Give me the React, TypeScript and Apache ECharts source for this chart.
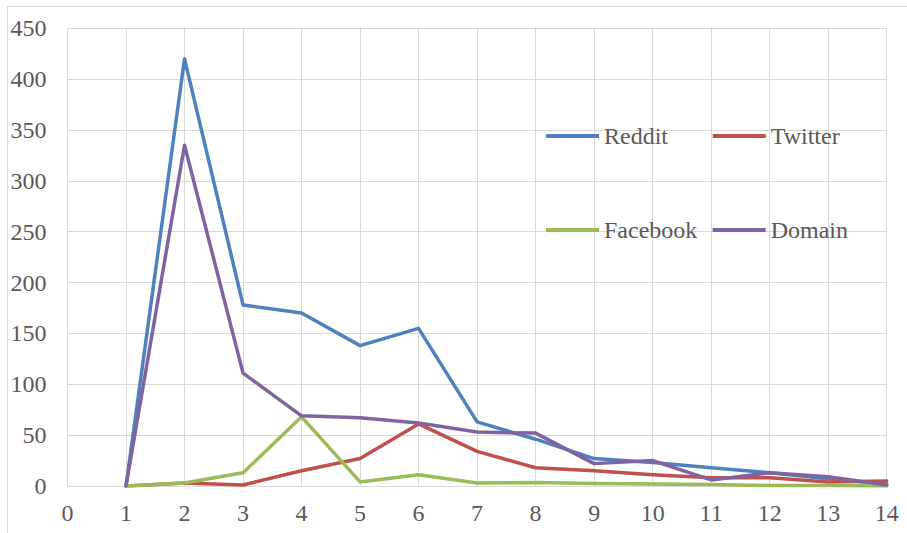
import React, { useEffect, useRef } from "react";
import * as echarts from "echarts";

const xValues = [1, 2, 3, 4, 5, 6, 7, 8, 9, 10, 11, 12, 13, 14];
const reddit = [0, 420, 178, 170, 138, 155, 63, 46, 27, 23, 18, 13, 7, 2];
const twitter = [0, 3, 1, 15, 27, 61, 34, 18, 15, 11, 8, 8, 4, 5];
const facebook = [0, 3, 13, 68, 4, 11, 3, 3.5, 2.5, 2, 1.5, 0.5, 0.5, 0];
const domain = [0, 335, 111, 69, 67, 62, 53, 52, 22, 25, 6, 13, 9, 1];

const seriesNames = ["Reddit", "Twitter", "Facebook", "Domain"];
const seriesColors = ["#4F81BD", "#C0504D", "#9BBB59", "#8064A2"];
const seriesData = [reddit, twitter, facebook, domain];

const FONT = "Liberation Serif, Times New Roman, serif";
const FONT_SIZE = 24;
const TEXT_COLOR = "#595959";
const GRID_COLOR = "#D9D9D9";

export default function App() {
  const ref = useRef<HTMLDivElement>(null);

  useEffect(() => {
    document.body.style.margin = "0";
    if (!ref.current) return;
    const chart = echarts.init(ref.current, null, { renderer: "svg" });

    const legendPos = [
      { left: 546, top: 124 },
      { left: 712.7, top: 124 },
      { left: 546, top: 218 },
      { left: 712.7, top: 218 },
    ];

    chart.setOption({
      animation: false,
      backgroundColor: "#ffffff",
      textStyle: { fontFamily: FONT },
      grid: { left: 67.5, right: 20.3, top: 28.3, bottom: 47, containLabel: false },
      graphic: [
        {
          type: "rect",
          shape: { x: 7.5, y: 6.5, width: 920, height: 560 },
          style: { fill: "none", stroke: GRID_COLOR, lineWidth: 1 },
          silent: true,
        },
      ],
      legend: seriesNames.map((name, i) => ({
        data: [name],
        left: legendPos[i].left,
        top: legendPos[i].top,
        icon: "rect",
        itemWidth: 53,
        itemHeight: 4,
        padding: 0,
        selectedMode: false,
        textStyle: { fontFamily: FONT, fontSize: FONT_SIZE, color: TEXT_COLOR },
      })),
      xAxis: {
        type: "value",
        min: 0,
        max: 14,
        interval: 1,
        axisLine: { show: true, lineStyle: { color: GRID_COLOR, width: 1 } },
        axisTick: { show: false },
        splitLine: { show: true, lineStyle: { color: GRID_COLOR, width: 1 } },
        axisLabel: { fontFamily: FONT, fontSize: FONT_SIZE, color: TEXT_COLOR, margin: 15 },
      },
      yAxis: {
        type: "value",
        min: 0,
        max: 450,
        interval: 50,
        axisLine: { show: true, lineStyle: { color: GRID_COLOR, width: 1 } },
        axisTick: { show: false },
        splitLine: { show: true, lineStyle: { color: GRID_COLOR, width: 1 } },
        axisLabel: { fontFamily: FONT, fontSize: FONT_SIZE, color: TEXT_COLOR, margin: 21 },
      },
      series: seriesNames.map((name, i) => ({
        name,
        type: "line",
        symbol: "none",
        showSymbol: false,
        data: xValues.map((x, j) => [x, seriesData[i][j]]),
        lineStyle: { color: seriesColors[i], width: 3.5, join: "round", cap: "round" },
        itemStyle: { color: seriesColors[i] },
        z: 2 + i,
      })),
    });

    return () => chart.dispose();
  }, []);

  return <div ref={ref} style={{ width: 907, height: 533 }} />;
}
